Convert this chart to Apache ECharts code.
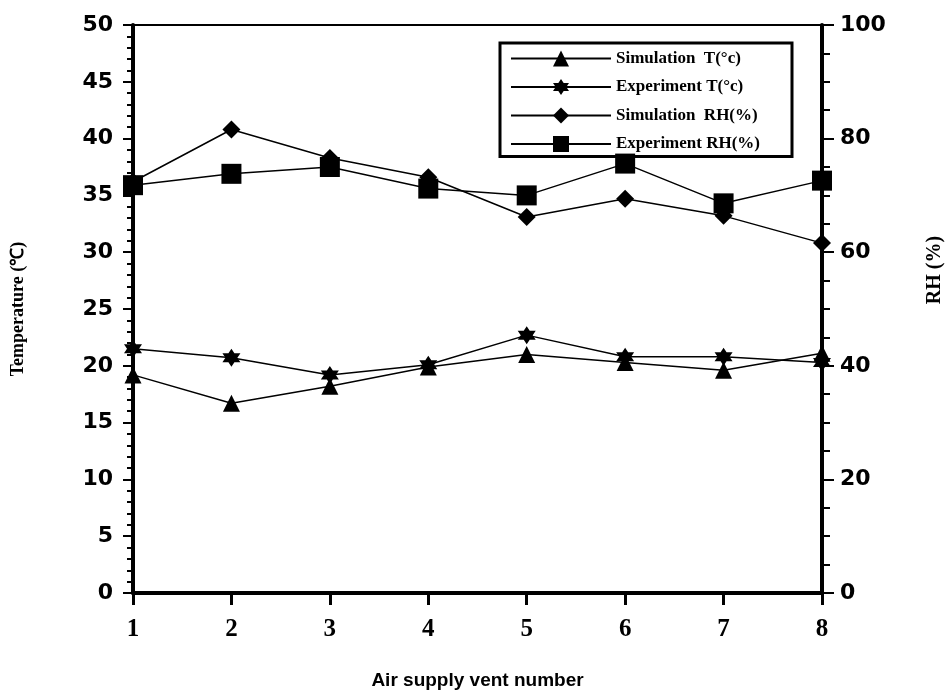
<!DOCTYPE html>
<html>
<head>
<meta charset="utf-8">
<script src="https://cdn.jsdelivr.net/npm/echarts@6/dist/echarts.min.js"></script>
<style>
  html, body { margin: 0; padding: 0; background: #fff; }
  #chart { width: 949px; height: 694px; }
</style>
</head>
<body>
<div id="chart"></div>
<script>
// vent numbers on the x axis
const vents = [1, 2, 3, 4, 5, 6, 7, 8]
// temperatures (°C), left axis
const simT = [19.2, 16.7, 18.2, 19.9, 21.0, 20.3, 19.6, 21.1]
const expT = [21.5, 20.7, 19.2, 20.1, 22.7, 20.8, 20.8, 20.3]
// relative humidity (%), right axis
const simRH = [72.4, 81.6, 76.6, 73.2, 66.2, 69.4, 66.4, 61.6]
const expRH = [71.8, 73.8, 75.0, 71.2, 70.0, 75.6, 68.6, 72.6]

const names = ['Simulation  T(°c)', 'Experiment T(°c)', 'Simulation  RH(%)', 'Experiment RH(%)']

// six pointed star marker
const starPath = 'path://M0,-10 L8.66,5 L-8.66,5 Z M0,10 L-8.66,-5 L8.66,-5 Z'

const serif = 'Liberation Serif'
const pair = (arr) => arr.map((v, i) => [vents[i], v])

const chart = echarts.init(document.getElementById('chart'))

const mkSeries = (name, data, symbol, size, yIdx, lw) => ({
  name: name,
  type: 'line',
  yAxisIndex: yIdx,
  data: pair(data),
  symbol: symbol,
  symbolSize: size,
  showAllSymbol: true,
  lineStyle: { color: '#000', width: lw },
  itemStyle: { color: '#000' },
  emphasis: { disabled: true },
  animation: false
})

const option = {
  backgroundColor: '#fff',
  grid: {
    left: 133, right: 127, top: 25, bottom: 101,
    outerBoundsMode: 'none',
    containLabel: false,
    show: true, borderColor: '#000', borderWidth: 2
  },
  legend: {
    orient: 'vertical',
    left: 500,
    top: 43,
    padding: [7, 32, 4, 10],
    borderColor: '#000',
    borderWidth: 3,
    itemWidth: 100,
    itemHeight: 20,
    itemGap: 11.5,
    textStyle: { fontFamily: serif, fontWeight: 'bold', fontSize: 17, color: '#000' },
    data: names
  },
  xAxis: {
    type: 'value',
    min: 1,
    max: 8,
    interval: 1,
    name: 'Air supply vent number',
    nameLocation: 'middle',
    nameGap: 78,
    nameTextStyle: { fontFamily: 'Liberation Sans', fontWeight: 'bold', fontSize: 19, color: '#000' },
    axisLine: { lineStyle: { color: '#000', width: 4 } },
    axisTick: { inside: false, length: 12, lineStyle: { color: '#000', width: 3 } },
    axisLabel: { fontFamily: serif, fontWeight: 'bold', fontSize: 25, color: '#000', margin: 24 },
    splitLine: { show: false }
  },
  yAxis: [
    {
      type: 'value',
      min: 0,
      max: 50,
      interval: 5,
      name: 'Temperature (℃)',
      nameLocation: 'middle',
      nameGap: 106,
      nameTextStyle: { fontFamily: serif, fontWeight: 'bold', fontSize: 18, color: '#000' },
      axisLine: { show: true, lineStyle: { color: '#000', width: 4 } },
      axisTick: { length: 10, lineStyle: { color: '#000', width: 2 } },
      minorTick: { show: true, splitNumber: 5, length: 6, lineStyle: { color: '#000', width: 2 } },
      axisLabel: { fontFamily: 'DejaVu Sans', fontWeight: 'bold', fontSize: 22, color: '#000', margin: 20 },
      splitLine: { show: false }
    },
    {
      type: 'value',
      min: 0,
      max: 100,
      interval: 20,
      position: 'right',
      axisLine: { show: true, lineStyle: { color: '#000', width: 4 } },
      axisTick: { length: 12, lineStyle: { color: '#000', width: 2 } },
      minorTick: { show: true, splitNumber: 4, length: 8, lineStyle: { color: '#000', width: 2 } },
      axisLabel: { fontFamily: 'DejaVu Sans', fontWeight: 'bold', fontSize: 22, color: '#000', margin: 18 },
      splitLine: { show: false }
    }
  ],
  graphic: [
    {
      type: 'text',
      x: 935,
      y: 270,
      rotation: Math.PI / 2,
      style: {
        text: 'RH (%)',
        fontFamily: serif,
        fontWeight: 'bold',
        fontSize: 20,
        fill: '#000',
        textAlign: 'center',
        textVerticalAlign: 'middle'
      }
    }
  ],
  series: [
    mkSeries(names[0], simT, 'triangle', 17, 0, 1.5),
    mkSeries(names[1], expT, starPath, 18, 0, 1.5),
    mkSeries(names[2], simRH, 'diamond', 18, 1, 1.5),
    mkSeries(names[3], expRH, 'rect', 20, 1, 1.5)
  ]
}

chart.setOption(option)
window.addEventListener('resize', () => chart.resize())
</script>
</body>
</html>
